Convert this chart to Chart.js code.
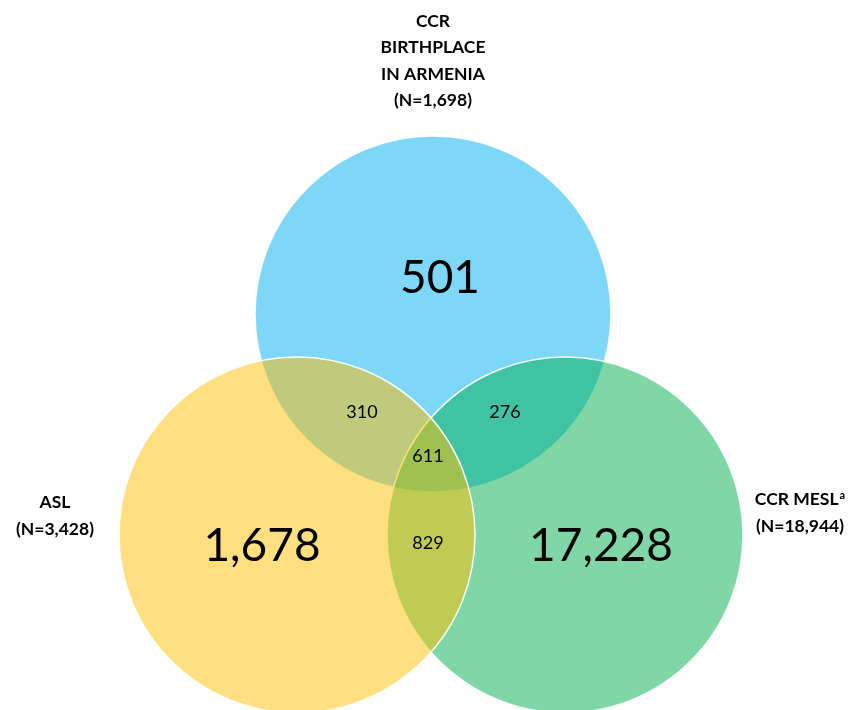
<!DOCTYPE html>
<html>
<head>
<meta charset="utf-8">
<script src="https://cdn.jsdelivr.net/npm/chart.js"></script>
<style>
    html, body { margin: 0; padding: 0; background: #fff; }
    #wrap { width: 848px; height: 710px; position: relative; }
</style>
</head>
<body>
<div id="wrap"><canvas id="vennChart"></canvas></div>
<script>
// sets, in drawing order (blue, green, yellow)
const setNames = [['CCR', 'BIRTHPLACE', 'IN ARMENIA'], ['CCR MESL'], ['ASL']]
const setTotals = [1698, 18944, 3428]
const setColors = ['rgba(0, 176, 240, 0.5)', 'rgba(0, 176, 80, 0.5)', 'rgba(255, 192, 0, 0.5)']

// regions of the diagram
const regionNames = ['Birthplace only', 'MESL only', 'ASL only', 'Birthplace + ASL', 'Birthplace + MESL', 'All three', 'ASL + MESL']
const regionCounts = [501, 17228, 1678, 310, 276, 611, 829]

// layout, in chart units (x 0..848, y 0..710 downwards, 1 unit = 1px)
const circleCentres = [[433, 314], [565, 535], [297, 535]]
const circleRadius = 178
const regionAnchors = [[440, 276], [601, 544], [262, 544], [362, 412], [505, 412], [428, 456], [428, 543]]
const setLabelAnchors = [[433, 20.5], [800, 499], [55, 502]]

const capHeight = 0.72
const fmt = n => n.toLocaleString('en-US')

const vennText = {
    id: 'vennText',
    afterDatasetsDraw(chart) {
        const { ctx, scales: { x, y } } = chart
        ctx.save()
        ctx.fillStyle = '#000'
        ctx.textAlign = 'center'
        ctx.textBaseline = 'alphabetic'

        regionCounts.forEach((n, i) => {
            const size = i < 3 ? 46 : 18
            ctx.font = size + 'px Lato'
            const px = x.getPixelForValue(regionAnchors[i][0])
            const py = y.getPixelForValue(regionAnchors[i][1])
            ctx.fillText(fmt(n), px, py + size * capHeight / 2)
        })

        const size = 17.5
        const lineGap = 26.5
        setNames.forEach((lines, i) => {
            const all = lines.concat('(N=' + fmt(setTotals[i]) + ')')
            const px = x.getPixelForValue(setLabelAnchors[i][0])
            all.forEach((line, j) => {
                const py = y.getPixelForValue(setLabelAnchors[i][1]) + j * lineGap + size * capHeight / 2
                ctx.font = 'bold ' + size + 'px Lato'
                if (line === 'CCR MESL') {
                    // superscript footnote mark
                    const w = ctx.measureText(line).width
                    ctx.font = 'bold 11px Lato'
                    const wa = ctx.measureText('a').width
                    const left = px - (w + wa + 1) / 2
                    ctx.textAlign = 'left'
                    ctx.font = 'bold ' + size + 'px Lato'
                    ctx.fillText(line, left, py)
                    ctx.font = 'bold 11px Lato'
                    ctx.fillText('a', left + w + 1, py - 6)
                    ctx.textAlign = 'center'
                } else {
                    ctx.fillText(line, px, py)
                }
            })
        })
        ctx.restore()
    }
}

window.onload = function () {
    const ctx = document.getElementById('vennChart').getContext('2d')
    const vennChart = new Chart(ctx, {
        type: 'bubble',
        data: {
            datasets: [{
                label: 'Sets',
                data: circleCentres.map(c => ({ x: c[0], y: c[1], r: circleRadius })),
                backgroundColor: setColors,
                hoverBackgroundColor: setColors,
                borderColor: 'rgba(255, 255, 255, 0.95)',
                hoverBorderColor: 'rgba(255, 255, 255, 0.95)',
                borderWidth: 1.5,
                clip: false
            }]
        },
        options: {
            responsive: true,
            maintainAspectRatio: false,
            animation: false,
            events: [],
            layout: { padding: 0, autoPadding: false },
            plugins: {
                legend: { display: false },
                tooltip: { enabled: false }
            },
            scales: {
                x: { type: 'linear', min: 0, max: 848, display: false },
                y: { type: 'linear', min: 0, max: 710, reverse: true, display: false }
            }
        },
        plugins: [vennText]
    })
}
</script>
</body>
</html>
